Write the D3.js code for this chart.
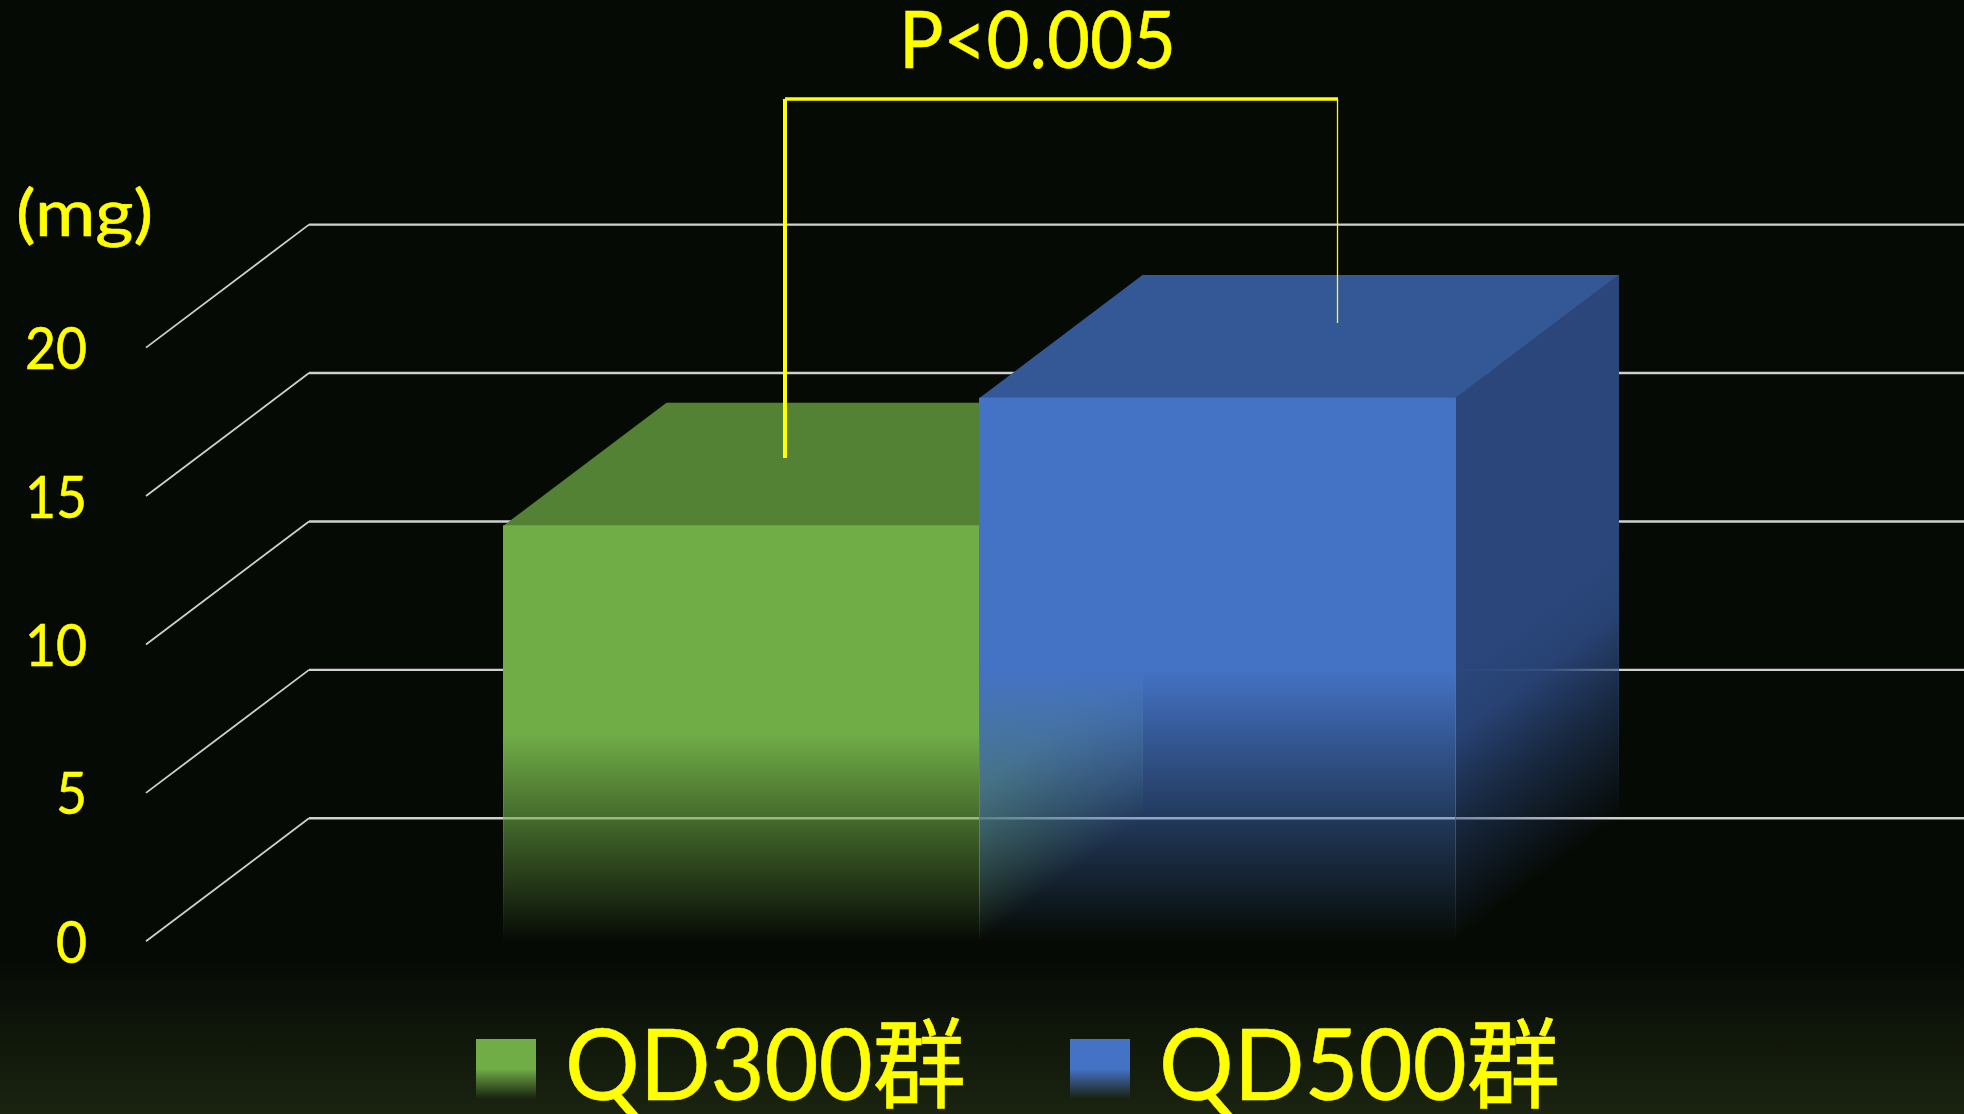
<!DOCTYPE html>
<html lang="ja">
<head>
<meta charset="utf-8">
<title>QD300群 / QD500群</title>
<script src="https://cdn.jsdelivr.net/npm/d3@7"></script>
<style>
  html, body { margin: 0; padding: 0; background: #060a05; overflow: hidden; }
  svg { display: block; }
  text { font-family: Lato, "Noto Sans CJK JP", sans-serif; fill: #ffff00; stroke: #ffff00; stroke-width: 0.6px; }
</style>
</head>
<body>
<script>
// Chart data
const categories = ["QD300群", "QD500群"];
const seriesValues = [14.0, 18.3];
const tickValues = [0, 5, 10, 15, 20];
const unitLabel = "(mg)";
const pValueLabel = "P<0.005";

// Palette for each box: front, top and side faces
const frontColors = ["#70ad47", "#4472c4"];
const topColors = ["#548235", "#345796"];
const sideColors = ["#4f7b31", "#2a467b"];

const width = 1964, height = 1114;
const depth = { dx: 163, dy: -123 };   // oblique offset from front plane to back plane
const skew = -depth.dy / depth.dx;

const svg = d3.select("body").append("svg")
  .attr("width", width).attr("height", height)
  .attr("viewBox", [0, 0, width, height]);
const defs = svg.append("defs");

const y = d3.scaleLinear().domain([0, 20]).range([941.3, 347.6]);
const x = d3.scaleBand().domain(categories).range([503.5, 1455.5]).padding(0);

// Background: near black with a faint olive glow along the bottom edge
const bg = defs.append("linearGradient").attr("id", "bg")
  .attr("x1", 0).attr("y1", 0).attr("x2", 0).attr("y2", 1);
bg.append("stop").attr("offset", 0.86).attr("stop-color", "#060a05");
bg.append("stop").attr("offset", 1).attr("stop-color", "#1a2410");
svg.append("rect").attr("width", width).attr("height", height).attr("fill", "url(#bg)");

// Floor-to-wall gridlines: a thin oblique run, then the heavier wall line
const grid = svg.append("g").attr("fill", "none").attr("stroke", "#d0d0d0");
grid.selectAll("line.floor").data(tickValues).join("line").attr("class", "floor")
  .attr("x1", 146).attr("y1", d => y(d))
  .attr("x2", 146 + depth.dx).attr("y2", d => y(d) + depth.dy)
  .attr("stroke-width", 1.8);
grid.selectAll("line.wall").data(tickValues).join("line").attr("class", "wall")
  .attr("x1", 146 + depth.dx).attr("y1", d => y(d) + depth.dy)
  .attr("x2", width).attr("y2", d => y(d) + depth.dy)
  .attr("stroke-width", 2.4);

// Fade ramps: [offset along the face, opacity]
const frontRamp = [[0.5, 1], [1, 0]];
const sideRamp = [[0.5, 1], [0.62, 0.93], [0.78, 0.5], [1, 0]];

// Fade helper: the skewed form keeps the ramp aligned with an oblique side face.
function fade(id, color, top, ramp, skewFrom) {
  const g = defs.append("linearGradient").attr("id", id)
    .attr("gradientUnits", "userSpaceOnUse")
    .attr("x1", 0).attr("x2", 0).attr("y1", top).attr("y2", y(0));
  if (skewFrom !== undefined) {
    g.attr("gradientTransform", `matrix(1 ${-skew} 0 1 0 ${skew * skewFrom})`);
  }
  g.selectAll("stop").data(ramp).join("stop")
    .attr("offset", d => d[0]).attr("stop-color", color).attr("stop-opacity", d => d[1]);
  return `url(#${id})`;
}
const poly = pts => d3.line()(pts) + "Z";

// Boxes, drawn left to right so the taller box overlaps its neighbour
const boxes = svg.append("g");
categories.forEach((c, i) => {
  const x0 = x(c), x1 = x0 + x.bandwidth();
  const t = y(seriesValues[i]), b = y(0);
  const sideFill = fade("side" + i, sideColors[i], t, sideRamp, x1);
  const frontFill = fade("front" + i, frontColors[i], t, frontRamp);
  boxes.append("path")
    .attr("d", poly([[x1, t], [x1 + depth.dx, t + depth.dy], [x1 + depth.dx, b + depth.dy], [x1, b]]))
    .attr("fill", sideFill).attr("stroke", sideFill);
  boxes.append("path")
    .attr("d", poly([[x0, t], [x0 + depth.dx, t + depth.dy], [x1 + depth.dx, t + depth.dy], [x1, t]]))
    .attr("fill", topColors[i]);
  boxes.append("path")
    .attr("d", poly([[x0, t], [x1, t], [x1, b], [x0, b]]))
    .attr("fill", frontFill).attr("stroke", frontFill);
});

// Value axis labels
const axis = svg.append("g").attr("transform", "translate(87,0)")
  .call(d3.axisLeft(y).tickValues(tickValues).tickSize(0).tickPadding(0));
axis.select(".domain").remove();
axis.attr("font-family", null).attr("font-size", null);
axis.selectAll("text")
  .attr("font-size", 58).attr("fill", null)
  .attr("dy", 21)
  .attr("textLength", d => String(d).length * 31)
  .attr("lengthAdjust", "spacingAndGlyphs");

svg.append("text").attr("x", 16).attr("y", 236)
  .attr("font-size", 64).attr("textLength", 137).attr("lengthAdjust", "spacingAndGlyphs")
  .text(unitLabel);

// Significance bracket
const bracket = svg.append("g").attr("fill", "none").attr("stroke", "#ffff00");
bracket.append("line").attr("x1", 785).attr("x2", 1338).attr("y1", 99).attr("y2", 99).attr("stroke-width", 3.6);
bracket.append("line").attr("x1", 785).attr("x2", 785).attr("y1", 99).attr("y2", 458).attr("stroke-width", 4);
bracket.append("line").attr("x1", 1337.5).attr("x2", 1337.5).attr("y1", 99).attr("y2", 323).attr("stroke-width", 1.3);
svg.append("text").attr("x", 899).attr("y", 68)
  .attr("font-size", 79).attr("textLength", 277).attr("lengthAdjust", "spacingAndGlyphs")
  .text(pValueLabel);

// Legend: gradient swatch and group name
const legendX = [476, 1070];
const legendTextWidth = 401;
categories.forEach((c, i) => {
  const id = "swatch" + i;
  const g = defs.append("linearGradient").attr("id", id).attr("x1", 0).attr("y1", 0).attr("x2", 0).attr("y2", 1);
  g.append("stop").attr("offset", 0.5).attr("stop-color", frontColors[i]).attr("stop-opacity", 1);
  g.append("stop").attr("offset", 1).attr("stop-color", frontColors[i]).attr("stop-opacity", 0);
  svg.append("rect").attr("x", legendX[i]).attr("y", 1039).attr("width", 60).attr("height", 60).attr("fill", `url(#${id})`);
  svg.append("text").attr("x", legendX[i] + 89).attr("y", 1100)
    .attr("font-size", 98).attr("textLength", legendTextWidth).attr("lengthAdjust", "spacingAndGlyphs")
    .text(c);
});
</script>
</body>
</html>
